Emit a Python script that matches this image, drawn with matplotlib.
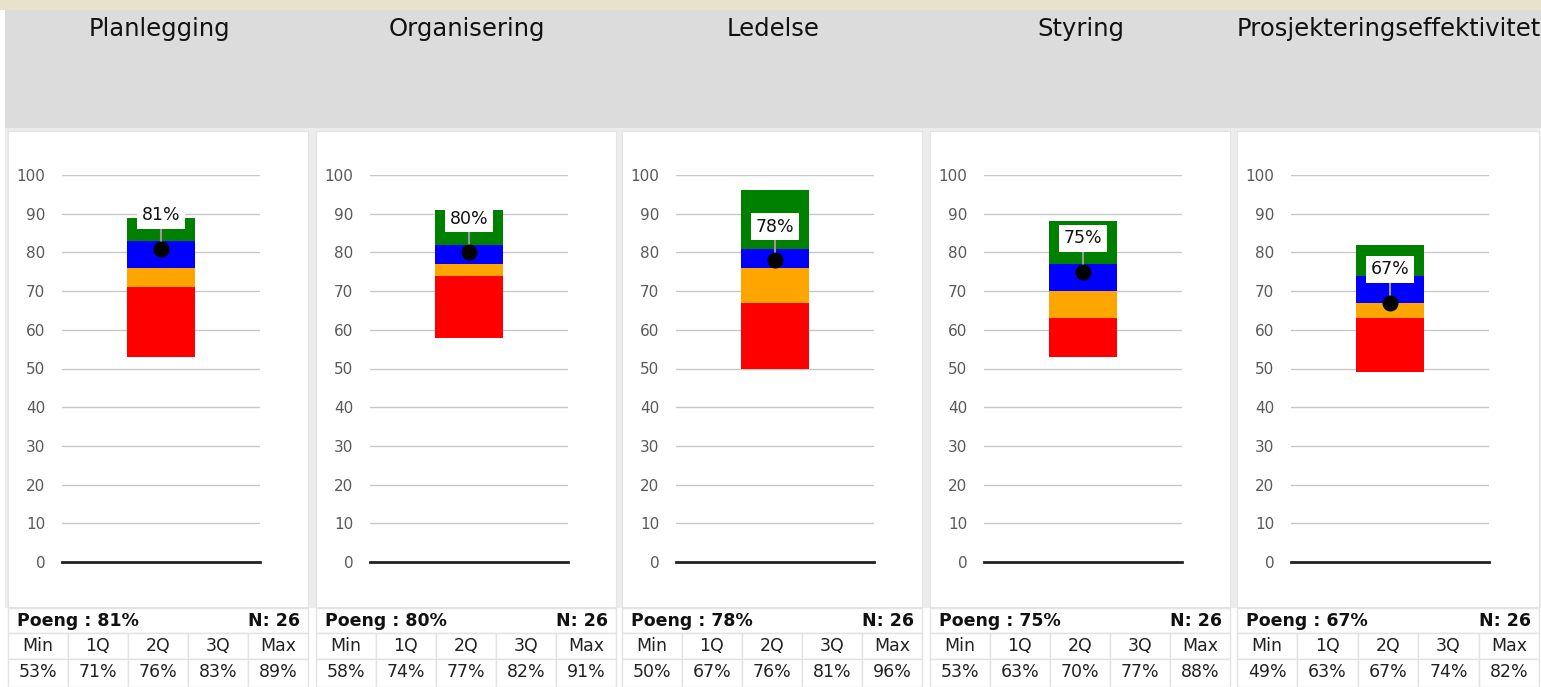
import matplotlib.pyplot as plt
from matplotlib.patches import Rectangle

# Data
categories = ["Planlegging", "Organisering", "Ledelse", "Styring",
              "Prosjekteringseffektivitet"]
score = [81, 80, 78, 75, 67]
n_resp = [26, 26, 26, 26, 26]
q_min = [53, 58, 50, 53, 49]
q1 = [71, 74, 67, 63, 63]
q2 = [76, 77, 76, 70, 67]
q3 = [83, 82, 81, 77, 74]
q_max = [89, 91, 96, 88, 82]
stat_labels = ["Min", "1Q", "2Q", "3Q", "Max"]
y_ticks = [0, 10, 20, 30, 40, 50, 60, 70, 80, 90, 100]

W, H = 1541, 687
panel_left = [8, 316, 622, 930, 1237]
panel_w = 302
seg_colors = ["#ff0000", "#ffa500", "#0000ff", "#008000"]
border = "#e3e3e3"

plt.rcParams['font.family'] = ['DejaVu Sans']

fig = plt.figure(figsize=(W / 100, H / 100), dpi=100)
fig.patch.set_facecolor("white")

# background layer in pixel coordinates
bg = fig.add_axes([0, 0, 1, 1], zorder=0)
bg.set_xlim(0, W)
bg.set_ylim(H, 0)
bg.axis("off")

bg.add_patch(Rectangle((0, 0), W, 10, color="#e8e1cc", lw=0))
bg.add_patch(Rectangle((5, 10), W - 5, 118, color="#dcdcdc", lw=0))
bg.add_patch(Rectangle((5, 128), W - 5, 480, color="#ececec", lw=0))


def px(x, y):
    return x / W, 1 - y / H


for i, cat in enumerate(categories):
    pl = panel_left[i]
    pw = panel_w if i < 4 else W - pl
    cx = pl + pw / 2

    # panel area
    bg.add_patch(Rectangle((pl, 131), pw - 2, 476, facecolor="white",
                           edgecolor=border, lw=0.8))
    bg.text(cx, 29, cat, ha="center", va="center", fontsize=17.5,
            color="#111111")

    # table
    rows_y = [608, 633, 659, 687]
    bg.add_patch(Rectangle((pl, rows_y[0]), pw - 2, rows_y[1] - rows_y[0],
                           facecolor="white", edgecolor=border, lw=1))
    bg.text(pl + 9, 621, f"Poeng : {score[i]}%", ha="left", va="center",
            fontsize=12.5, fontweight="bold", color="#111111")
    bg.text(pl + pw - 10, 621, f"N: {n_resp[i]}", ha="right", va="center",
            fontsize=12.5, fontweight="bold", color="#111111")
    vals = [q_min[i], q1[i], q2[i], q3[i], q_max[i]]
    cw = (pw - 2) / 5
    for j in range(5):
        x0 = pl + j * cw
        for r in (1, 2):
            bg.add_patch(Rectangle((x0, rows_y[r]), cw, rows_y[r + 1] - rows_y[r],
                                   facecolor="white", edgecolor=border, lw=1))
        bg.text(x0 + cw / 2, 646, stat_labels[j], ha="center", va="center",
                fontsize=12.5, color="#222222")
        bg.text(x0 + cw / 2, 672, f"{vals[j]}%", ha="center", va="center",
                fontsize=12.5, color="#222222")

    # chart axes
    l, b = px(pl + 54, 562)
    ax = fig.add_axes([l, b, 198 / W, (562 - 175) / H], zorder=2)
    ax.set_facecolor("none")
    ax.set_xlim(-0.5, 0.5)
    ax.set_ylim(0, 100)
    for s in ax.spines.values():
        s.set_visible(False)
    ax.axhline(0, color="#222222", lw=2, zorder=3, clip_on=False)
    ax.set_yticks(y_ticks)
    ax.set_xticks([])
    ax.tick_params(axis="y", length=0, pad=12, labelsize=11,
                   labelcolor="#595959")
    ax.yaxis.grid(True, color="#c8c8c8", lw=1)
    ax.set_axisbelow(True)

    bounds = [q_min[i], q1[i], q2[i], q3[i], q_max[i]]
    for k in range(4):
        ax.bar(0, bounds[k + 1] - bounds[k], bottom=bounds[k], width=0.343,
               color=seg_colors[k], zorder=2)

    ax.annotate(f"{score[i]}%", xy=(0, score[i]), xytext=(0, 24),
                textcoords="offset points", ha="center", va="center",
                fontsize=12.5, color="#111111",
                bbox=dict(boxstyle="square,pad=0.25", fc="white", ec="none"),
                arrowprops=dict(arrowstyle="-", color="#999999", lw=1.5,
                                shrinkA=0, shrinkB=0),
                zorder=4)
    ax.plot(0, score[i], "o", color="black", ms=10.5, zorder=5)

fig.savefig("out.png", dpi=100)
